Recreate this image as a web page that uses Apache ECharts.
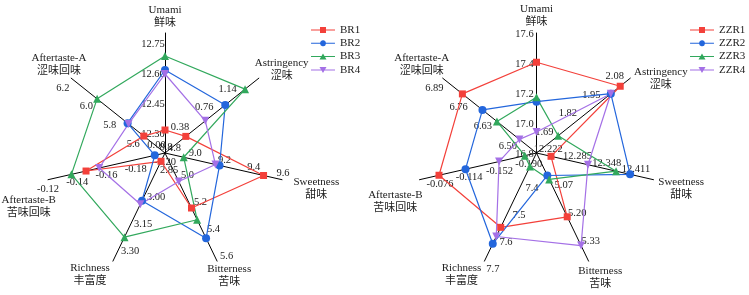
<!DOCTYPE html>
<html>
<head>
<meta charset="utf-8">
<script src="https://cdn.jsdelivr.net/npm/echarts@6/dist/echarts.min.js"></script>
<style>
html, body { margin: 0; padding: 0; background: #fff; }
#chart { width: 749px; height: 295px; }
</style>
</head>
<body>
<div id="chart"></div>
<script>
var FONT = '"Liberation Serif", "Times New Roman", "Noto Sans CJK SC", serif';
var SPLIT = 120; // fine tick grid, only the listed tick values get a label

var namesEN = ['Umami', 'Astringency', 'Sweetness', 'Bitterness', 'Richness', 'Aftertaste-B', 'Aftertaste-A'];
var namesZH = ['鲜味', '涩味', '甜味', '苦味', '丰富度', '苦味回味', '涩味回味'];

// left chart (BR)
var brMin = [12.2, 0, 8.8, 4.8, 2.8, -0.20, 5.4];
var brMax = [12.8, 1.5, 9.6, 5.6, 3.4, -0.12, 6.2];
var brTicks = [
    [12.30, 12.45, 12.60, 12.75],
    [0, 0.38, 0.76, 1.14],
    [8.8, 9.0, 9.2, 9.4, 9.6],
    [4.8, 5.0, 5.2, 5.4, 5.6],
    [2.85, 3.00, 3.15, 3.30],
    [-0.20, -0.18, -0.16, -0.14, -0.12],
    [5.6, 5.8, 6.0, 6.2]
];
var brDec = [2, 2, 1, 1, 2, 2, 1];
var BR1 = [12.315, 0.333, 9.474, 5.207, 2.846, -0.146, 5.581];
var BR2 = [12.615, 0.963, 9.173, 5.431, 3.065, -0.193, 5.719];
var BR3 = [12.685, 1.280, 8.928, 5.294, 3.267, -0.136, 5.979];
var BR4 = [12.595, 0.645, 9.145, 5.011, 3.084, -0.155, 5.711];

// right chart (ZZR)
var zzrMin = [16.8, 1.6, 12.2, 4.9, 7.3, -0.20, 6.39];
var zzrMax = [17.6, 2.12, 12.45, 5.4, 7.7, -0.05, 6.89];
var zzrTicks = [
    [16.8, 17.0, 17.2, 17.4, 17.6],
    [1.69, 1.82, 1.95, 2.08],
    [12.222, 12.285, 12.348, 12.411],
    [5.07, 5.20, 5.33],
    [7.4, 7.5, 7.6, 7.7],
    [-0.190, -0.152, -0.114, -0.076],
    [6.50, 6.63, 6.76, 6.89]
];
var zzrDec = [1, 2, 3, 2, 1, 3, 2];
var ZZR1 = [17.405, 2.064, 12.231, 5.195, 7.575, -0.075, 6.785];
var ZZR2 = [17.142, 2.012, 12.400, 5.004, 7.636, -0.109, 6.678];
var ZZR3 = [17.171, 1.720, 12.370, 5.022, 7.350, -0.185, 6.601];
var ZZR4 = [16.940, 2.012, 12.310, 5.328, 7.609, -0.152, 6.481];

// label placement, px from tick / axis end (style only)
var labelShift = [[-12, 1], [-8.5, -7.5], [1, -6], [9.5, -4.7], [8.5, 8.2], [0, 9.3], [-8.3, 9.6]];
var brNameShift = [[0, -16.3], [22.9, -8.7], [30.2, 7.8], [12.1, 14.9], [-22.9, 13.9], [-17.7, 26.1], [-12.2, -13.7]];
var zzrNameShift = [[0, -17], [30.5, 0], [27.7, 9.1], [11.7, 16.4], [-22.9, 13.9], [-17.8, 20.3], [-21, -13.5]];

var colors = ['#F3403A', '#2366DC', '#31A85C', '#A470E6'];
var symbols = ['rect', 'circle', 'triangle', 'triangle'];
var symbolRot = [0, 0, 0, 180];
var symbolSizes = [7, 8, 8, 8];
var legendIcons = [
    'path://M0,3.5 L9,3.5 L9,1 L15,1 L15,3.5 L24,3.5 L24,4.5 L15,4.5 L15,7 L9,7 L9,4.5 L0,4.5 Z',
    'path://M0,3.5 L9.04,3.5 A3,3 0 0 1 14.96,3.5 L24,3.5 L24,4.5 L14.96,4.5 A3,3 0 0 1 9.04,4.5 L0,4.5 Z',
    'path://M0,3.5 L10.54,3.5 L12,1 L13.46,3.5 L24,3.5 L24,4.5 L14.04,4.5 L15.5,7 L8.5,7 L9.96,4.5 L0,4.5 Z',
    'path://M0,3.5 L9.96,3.5 L8.5,1 L15.5,1 L14.04,3.5 L24,3.5 L24,4.5 L13.46,4.5 L12,7 L10.54,4.5 L0,4.5 Z'
];

// echarts lays indicators out counter-clockwise; the figure runs clockwise
var order = [0, 6, 5, 4, 3, 2, 1];
function reorder(arr) {
    return order.map(function (k) { return arr[k]; });
}

// centred rich text moved by (dx, dy) through its padding
function shiftPadding(s) {
    var dx = s[0], dy = s[1];
    return [Math.max(2 * dy, 0), Math.max(-2 * dx, 0), Math.max(-2 * dy, 0), Math.max(2 * dx, 0)];
}

function labelFormatter(ticks, step, dec) {
    return function (v) {
        for (var i = 0; i < ticks.length; i++) {
            if (Math.abs(v - ticks[i]) < step / 2) {
                return '{v|' + ticks[i].toFixed(dec) + '}';
            }
        }
        return '';
    };
}

function buildRadar(center, mins, maxs, ticks, decs, nameShift) {
    return {
        center: center,
        radius: 120,
        startAngle: 90,
        splitNumber: SPLIT,
        shape: 'polygon',
        indicator: order.map(function (i) {
            return {
                name: namesEN[i],
                min: mins[i],
                max: maxs[i],
                nameTextStyle: {
                    align: 'center',
                    verticalAlign: 'middle',
                    padding: shiftPadding(nameShift[i])
                },
                axisLabel: {
                    formatter: labelFormatter(ticks[i], (maxs[i] - mins[i]) / SPLIT, decs[i]),
                    align: 'center',
                    verticalAlign: 'middle',
                    padding: shiftPadding(labelShift[i])
                }
            };
        }),
        nameGap: 0,
        axisName: {
            color: '#222',
            fontSize: 11,
            fontFamily: FONT,
            formatter: function (name) {
                var i = namesEN.indexOf(name);
                return '{a|' + name + '}\n{a|' + namesZH[i] + '}';
            },
            rich: {
                a: { align: 'center', fontSize: 11, fontFamily: FONT, color: '#222', lineHeight: 13 }
            }
        },
        axisLine: { lineStyle: { color: '#000', width: 1 } },
        axisTick: { show: false },
        axisLabel: {
            show: true,
            color: '#222',
            fontSize: 10.5,
            fontFamily: FONT,
            margin: 0,
            showMinLabel: true,
            showMaxLabel: true,
            rich: {
                v: { fontSize: 10.5, fontFamily: FONT, color: '#222', lineHeight: 12 }
            }
        },
        splitLine: { show: false },
        splitArea: { show: false }
    };
}

function buildSeries(radarIndex, names, values) {
    return {
        type: 'radar',
        radarIndex: radarIndex,
        data: names.map(function (n, i) {
            return {
                name: n,
                value: reorder(values[i]),
                symbol: symbols[i],
                symbolSize: symbolSizes[i],
                symbolRotate: symbolRot[i],
                lineStyle: { color: colors[i], width: 1.2 },
                itemStyle: { color: colors[i] }
            };
        })
    };
}

function buildLegend(left, names) {
    return {
        orient: 'vertical',
        left: left,
        top: 23.5,
        padding: 0,
        itemGap: 0.3,
        itemWidth: 24,
        itemHeight: 6,
        data: names.map(function (n, i) {
            return { name: n, icon: legendIcons[i], itemStyle: { color: colors[i] } };
        }),
        textStyle: { fontSize: 11, fontFamily: FONT, color: '#222', lineHeight: 13 }
    };
}

var brNames = ['BR1', 'BR2', 'BR3', 'BR4'];
var zzrNames = ['ZZR1', 'ZZR2', 'ZZR3', 'ZZR4'];

var chart = echarts.init(document.getElementById('chart'));
chart.setOption({
    animation: false,
    backgroundColor: '#fff',
    legend: [buildLegend(311, brNames), buildLegend(690, zzrNames)],
    radar: [
        buildRadar([165, 153], brMin, brMax, brTicks, brDec, brNameShift),
        buildRadar([536.5, 153], zzrMin, zzrMax, zzrTicks, zzrDec, zzrNameShift)
    ],
    series: [
        buildSeries(0, brNames, [BR1, BR2, BR3, BR4]),
        buildSeries(1, zzrNames, [ZZR1, ZZR2, ZZR3, ZZR4])
    ]
});
window.addEventListener('resize', function () {
    chart.resize();
});
</script>
</body>
</html>
